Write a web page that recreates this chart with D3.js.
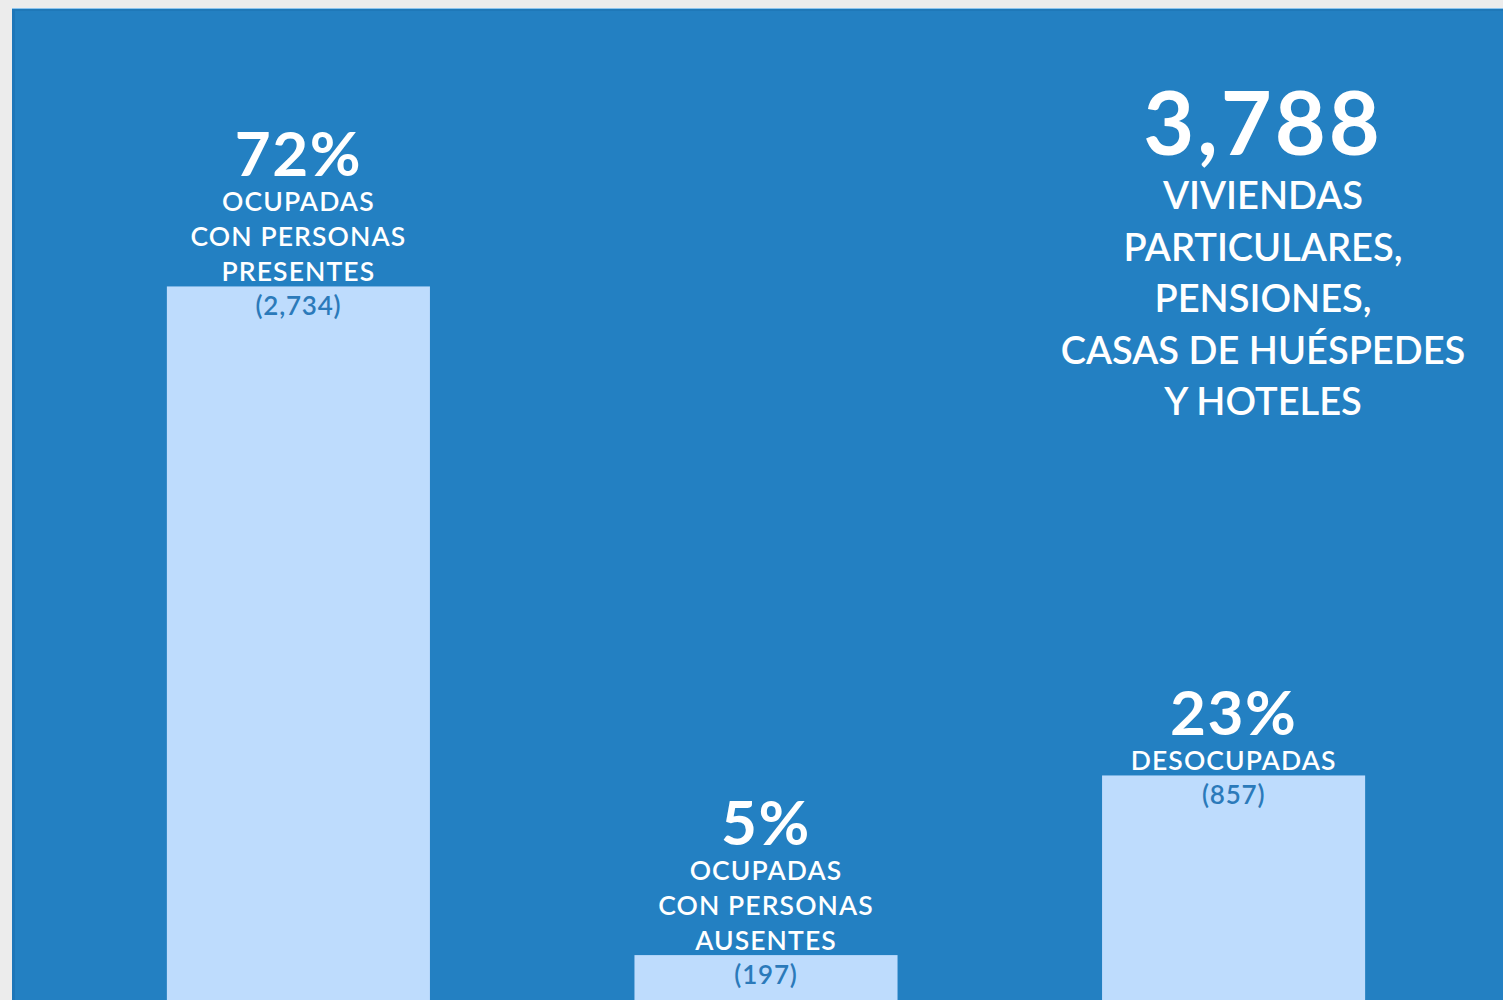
<!DOCTYPE html>
<html>
<head>
<meta charset="utf-8">
<script src="https://cdn.jsdelivr.net/npm/d3@7/dist/d3.min.js"></script>
<style>
  html, body { margin: 0; padding: 0; background: #ececec; overflow: hidden; }
  svg { display: block; }
</style>
</head>
<body>
<svg id="chart" width="1503" height="1000"></svg>
<script>
// ---- data ----
const categories = ["presentes", "ausentes", "desocupadas"];
const percents = [72, 5, 23];
const counts = [2734, 197, 857];
const labelLines = [
  ["OCUPADAS", "CON PERSONAS", "PRESENTES"],
  ["OCUPADAS", "CON PERSONAS", "AUSENTES"],
  ["DESOCUPADAS"]
];
const totalValue = 3788;
const totalLines = ["VIVIENDAS", "PARTICULARES,", "PENSIONES,", "CASAS DE HUÉSPEDES", "Y HOTELES"];

const data = categories.map((c, i) => ({ cat: c, pct: percents[i], n: counts[i], lines: labelLines[i] }));

const W = 1503, H = 1000;
const svg = d3.select("#chart");
const FONT = "Lato, 'Open Sans', sans-serif";

// background panel
svg.append("rect").attr("x", 0).attr("y", 0).attr("width", W).attr("height", H).attr("fill", "#ececec");
svg.append("rect").attr("x", 12).attr("y", 8).attr("width", W - 12).attr("height", H - 8).attr("fill", "#2380c2");
svg.append("rect").attr("x", 12).attr("y", 8).attr("width", W - 12).attr("height", 1).attr("fill", "#8cc4ee");
svg.append("rect").attr("x", 12).attr("y", 9).attr("width", W - 12).attr("height", 2).attr("fill", "#1f78b8");
svg.append("rect").attr("x", 12).attr("y", 9).attr("width", 3).attr("height", H - 9).attr("fill", "#1e76b8");

// scales
const x = d3.scaleBand().domain(categories).range([64, 1468]).paddingInner(0.4374).paddingOuter(0.22);
const y = d3.scaleLinear().domain([0, 100]).range([1005, 7]);

// bars
svg.selectAll("rect.bar").data(data).join("rect")
  .attr("class", "bar")
  .attr("x", d => x(d.cat))
  .attr("width", x.bandwidth())
  .attr("y", d => y(d.pct))
  .attr("height", d => y(0) - y(d.pct))
  .attr("fill", "#bedcfd");

// labels
const g = svg.selectAll("g.lab").data(data).join("g")
  .attr("class", "lab")
  .attr("transform", d => `translate(${x(d.cat) + x.bandwidth() / 2},${y(d.pct)})`);

g.append("text")
  .attr("text-anchor", "middle")
  .attr("y", 29)
  .attr("fill", "#2b7aba")
  .attr("font-family", FONT)
  .attr("font-size", 26)
  .attr("font-weight", 600)
  .attr("letter-spacing", 0.8)
  .text(d => `(${d3.format(",")(d.n)})`);

g.each(function (d) {
  const sel = d3.select(this);
  const nL = d.lines.length;
  d.lines.forEach((ln, i) => {
    sel.append("text")
      .attr("text-anchor", "middle")
      .attr("y", -5 - (nL - 1 - i) * 35)
      .attr("fill", "#ffffff")
      .attr("font-family", FONT)
      .attr("font-size", 26.5)
      .attr("font-weight", 600)
      .attr("letter-spacing", 1.1)
      .text(ln);
  });
  sel.append("text")
    .attr("text-anchor", "middle")
    .attr("y", -5 - (nL - 1) * 35 - 35)
    .attr("fill", "#ffffff")
    .attr("font-family", FONT)
    .attr("font-size", 62)
    .attr("font-weight", 700)
    .attr("letter-spacing", 1.5)
    .text(d.pct + "%");
});

// total annotation
const tg = svg.append("g").attr("transform", "translate(1263,0)");
tg.append("text")
  .attr("text-anchor", "middle")
  .attr("y", 155)
  .attr("fill", "#ffffff")
  .attr("font-family", FONT)
  .attr("font-size", 88)
  .attr("font-weight", 700)
  .attr("letter-spacing", 3)
  .text(d3.format(",")(totalValue));
totalLines.forEach((ln, i) => {
  tg.append("text")
    .attr("text-anchor", "middle")
    .attr("y", 209 + i * 51.5)
    .attr("fill", "#ffffff")
    .attr("font-family", FONT)
    .attr("font-size", 38)
    .attr("font-weight", 600)
    .text(ln);
});
</script>
</body>
</html>
